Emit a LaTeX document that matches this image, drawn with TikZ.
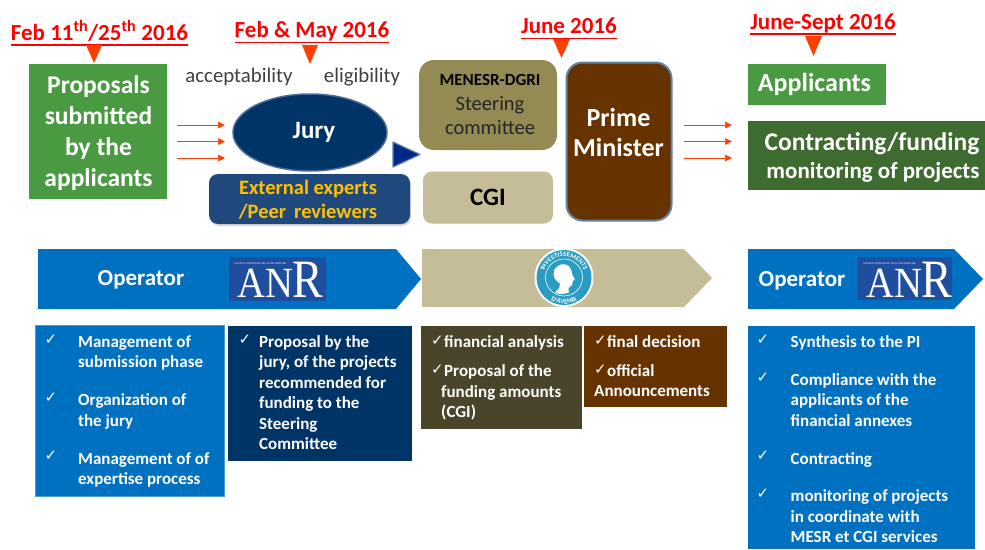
\documentclass[tikz,border=0pt]{standalone}
\usepackage{fontspec}
\setmainfont{Carlito}
\newfontfamily\serifanr{Liberation Serif}
\newfontfamily\chk{DejaVu Sans}
\usetikzlibrary{arrows.meta,shapes.geometric,shadows,decorations.text}
\definecolor{hot}{HTML}{FF3F00}
\definecolor{datered}{HTML}{FF0000}
\definecolor{grn}{HTML}{4A9A42}
\definecolor{dgrn}{HTML}{3E6B30}
\definecolor{navy}{HTML}{003366}
\definecolor{navyb}{HTML}{1F497D}
\definecolor{opblue}{HTML}{0070C0}
\definecolor{olive}{HTML}{948A54}
\definecolor{tan}{HTML}{C4BD97}
\definecolor{brn}{HTML}{663300}
\definecolor{dolive}{HTML}{4A452A}
\definecolor{anrblue}{HTML}{1F4E9E}
\definecolor{gold}{HTML}{FFC000}
\definecolor{seal}{HTML}{2A9CC4}
\tikzset{
  box/.style={anchor=north west,inner sep=0pt,outer sep=0pt,align=center,text=white},
  datelab/.style={inner sep=0pt,text=datered,font=\fontsize{23}{27}\selectfont\bfseries},
  underl/.style={datered,line width=1.4pt},
  flow/.style={hot,line width=0.7pt,-{Triangle[length=7pt,width=6.5pt]}},
  lst/.style={anchor=north west,inner sep=0pt,align=left,text=white,font=\fontsize{17}{20.5}\selectfont\bfseries},
  tick/.style={inner sep=0pt,text=white,font=\chk\fontsize{15}{15}\selectfont},
  panel/.style={box,anchor=north west},
  oplab/.style={inner sep=0pt,text=white,font=\fontsize{23}{27}\selectfont\bfseries},
  crit/.style={inner sep=0pt,text=black!75,font=\fontsize{20.8}{24}\selectfont},
}
\newcommand{\anrlogo}[5]{%
  \begin{scope}[shift={(#2,#3)}]
    \node[fill=anrblue,minimum width=#4pt,minimum height=#5pt,box] (#1box) at (0,0) {};
    \node[inner sep=0pt,text=white,font=\serifanr\fontsize{2.7}{3}\selectfont,anchor=west] (#1sm) at (5,7) {AGENCE NATIONALE DE LA RECHERCHE};
    \node[inner sep=0pt,text=white,xscale=.9,font=\serifanr\fontsize{43}{43}\selectfont,anchor=base west] (#1an) at (8,40.5) {AN};
    \node[inner sep=0pt,text=white,xscale=.85,font=\serifanr\fontsize{54}{54}\selectfont,anchor=base west] (#1r) at (63,40.5) {R};
  \end{scope}}
\newcommand{\tk}[3]{\node[tick] (#1) at (#2,#3) {✓};}
\begin{document}
\begin{tikzpicture}[x=1pt,y=-1pt]
\useasboundingbox (0,0) rectangle (985,549);
\fill[white] (0,0) rectangle (985,549);

% dates
\node[datelab] (d1) at (99.5,30.5) {Feb 11\textsuperscript{th}/25\textsuperscript{th} 2016};
\node[datelab] (d2) at (312,31) {Feb \& May 2016};
\node[datelab] (d3) at (569,26) {June 2016};
\node[datelab] (d4) at (823,23) {June-Sept 2016};
\foreach \n in {d1,d2,d3,d4} \draw[underl] ([yshift=-5pt]\n.base west) -- ([yshift=-5pt]\n.base east);
\fill[hot] (86,45) -- (102,45) -- (94,63) -- cycle;
\fill[hot] (302,45) -- (318,45) -- (310,64) -- cycle;
\fill[hot] (553,39) -- (570,39) -- (561.5,58) -- cycle;
\fill[hot] (805,36) -- (822,36) -- (813.5,56) -- cycle;

% top row
\node[box,fill=grn,minimum width=138pt,minimum height=135pt] (prop) at (29,64) {};
\node[inner sep=0pt,align=center,text=white,font=\fontsize{25.5}{31}\selectfont\bfseries] (propt) at (98.5,133.5) {Proposals\\submitted\\by the\\applicants};
\node[crit] (acc) at (239,77) {acceptability};
\node[crit] (eli) at (362,77) {eligibility};
\node[draw=navyb!80!white,line width=1.5pt,fill=navy,ellipse,minimum width=154pt,minimum height=77pt,inner sep=0pt,text=white,font=\fontsize{25}{29}\selectfont\bfseries] (jury) at (310,132.5) {\hspace{8pt}\raisebox{-2pt}{Jury}};
\node[box,fill=navyb,rounded corners=9pt,minimum width=201pt,minimum height=50pt,drop shadow={shadow xshift=1pt,shadow yshift=-2pt,opacity=.3}] (exp) at (209,174) {};
\node[inner sep=0pt,align=center,text=gold,font=\fontsize{20.5}{23.5}\selectfont\bfseries] (expt) at (308,200) {External experts\\/Peer\, reviewers};
\fill[navy!80!blue,draw=navyb!70!white,line width=1.2pt,line join=round] (393,142) -- (420,154.5) -- (393,167) -- cycle;

\node[box,fill=olive,rounded corners=15pt,minimum width=138pt,minimum height=90pt] (men) at (419,60) {};
\node[inner sep=0pt,text=black,font=\fontsize{17}{20}\selectfont\bfseries] (men1) at (490,80) {MENESR-DGRI};
\node[inner sep=0pt,align=center,text=black!85,font=\fontsize{20.5}{24}\selectfont] (men2) at (490,115.5) {Steering\\committee};
\node[box,fill=tan,rounded corners=9pt,minimum width=130pt,minimum height=52pt,text=black,font=\fontsize{25}{28}\selectfont\bfseries] (cgi) at (423,171.5) {CGI};
\node[box,draw=navyb!70!white,line width=2pt,fill=brn,rounded corners=16pt,minimum width=105pt,minimum height=158pt] (pm) at (566.5,62.5) {};
\node[inner sep=0pt,align=center,text=white,font=\fontsize{26}{30}\selectfont\bfseries] (pmt) at (618.5,132) {Prime\\Minister};

\node[box,fill=grn,minimum width=138pt,minimum height=41pt,font=\fontsize{26}{30}\selectfont\bfseries] (app) at (748,64) {\raisebox{-2pt}{Applicants}\hspace{5pt}};
\node[box,fill=dgrn,minimum width=237pt,minimum height=69pt] (con) at (748,121) {};
\node[inner sep=0pt,text=white,font=\fontsize{25.5}{29}\selectfont\bfseries] (con1) at (872,143.5) {Contracting/funding};
\node[inner sep=0pt,text=white,font=\fontsize{23}{27}\selectfont\bfseries] (con2) at (873,172) {monitoring of projects};

% flow arrows
\foreach \y [count=\i] in {125,141.5,158}{
  \coordinate (la\i) at (177,\y); \coordinate (lb\i) at (225,\y);
  \coordinate (ra\i) at (684,\y); \coordinate (rb\i) at (732,\y);
  \draw[flow] (la\i) -- (lb\i);
  \draw[flow] (ra\i) -- (rb\i);
}

% chevrons
\fill[opblue] (38,249) -- (396,249) -- (421,279) -- (396,309) -- (38,309) -- cycle;
\fill[tan] (422,249) -- (684,249) -- (712,278) -- (684,307) -- (422,307) -- cycle;
\fill[opblue] (748,249) -- (954,249) -- (983,279) -- (954,309) -- (748,309) -- cycle;
\node[oplab] (op1) at (141,280) {Operator};
\node[oplab] (op2) at (802,281) {Operator};
\anrlogo{l}{229}{257}{97}{44}
\anrlogo{r}{858}{257}{94}{43}

% seal
\begin{scope}[shift={(564,277.5)},x=1pt,y=1pt]
  \fill[white] (0,0) circle (29.5pt);
  \fill[seal] (0,0) circle (27.5pt);
  \draw[white,line width=.6pt] (0,0) circle (18.5pt);
  \fill[white] (-9,-15) .. controls (-5,-11) and (-3,-9) .. (-4,-6)
     .. controls (-11,-2) and (-13,6) .. (-7,11)
     .. controls (-2,15) and (5,14) .. (7,8)
     .. controls (8,6) and (8,4) .. (8.5,2)
     .. controls (10,0) and (11,-1) .. (10.5,-2)
     .. controls (9,-3) and (8.5,-4) .. (8.5,-5)
     .. controls (8.5,-8) and (7,-9) .. (6,-9)
     .. controls (4,-10) and (4,-12) .. (5,-15)
     .. controls (0,-17) and (-6,-17) .. (-9,-15) -- cycle;
  \path[decorate,decoration={text along path,text align=center,
     text={|\fontsize{6.8}{8}\selectfont\bfseries\color{white}|INVESTISSEMENTS}}]
     (-20.3,-5) arc[start angle=194,end angle=-14,radius=20.9pt];
  \path[decorate,decoration={text along path,text align=center,
     text={|\fontsize{6.8}{8}\selectfont\bfseries\color{white}|D'AVENIR}}]
     (-23.4,-12.4) arc[start angle=208,end angle=332,radius=26.5pt];
\end{scope}

% panel 1
\node[panel,fill=opblue,draw=opblue!70!white,line width=.6pt,minimum width=189pt,minimum height=170.5pt] (p1) at (35.5,325.5) {};
\tk{t1a}{51}{340}\tk{t1b}{51}{398}\tk{t1c}{51}{456}
\node[lst] (l1a) at (78,335) {Management of\\submission phase};
\node[lst] (l1b) at (78,393.5) {Organization of\\the jury};
\node[lst] (l1c) at (78,452) {Management of of\\expertise process};

% panel 2
\node[panel,fill=navy,minimum width=184pt,minimum height=135pt] (p2) at (228,326) {};
\tk{t2a}{245}{340}
\node[lst] (l2a) at (259,335) {Proposal by the\\jury, of the projects\\recommended for\\funding to the\\Steering\\Committee};

% panel 3
\node[panel,fill=dolive,minimum width=161pt,minimum height=103pt] (p3) at (421,325.5) {};
\tk{t3a}{437.5}{341}\tk{t3b}{437.5}{370}
\node[lst,anchor=base west] (l3a) at (444,347.5) {financial analysis};
\node[lst] (l3b) at (444,364.5) {Proposal of the};
\node[lst] (l3c) at (441,385) {funding amounts\\(CGI)};

% panel 4
\node[panel,fill=brn,minimum width=143pt,minimum height=81.5pt] (p4) at (584,325.5) {};
\tk{t4a}{600.5}{341}\tk{t4b}{600.5}{370}
\node[lst,anchor=base west] (l4a) at (607,347.5) {final decision};
\node[lst] (l4b) at (607,364.5) {official};
\node[lst] (l4c) at (594,385) {Announcements};

% panel 5
\node[panel,fill=opblue,minimum width=227pt,minimum height=223pt] (p5) at (748,326) {};
\tk{t5a}{763}{340}\tk{t5b}{763}{378}\tk{t5c}{763}{456}\tk{t5d}{763}{494}
\node[lst] (l5a) at (790.5,335) {Synthesis to the PI};
\node[lst] (l5b) at (790.5,373) {Compliance with the\\applicants of the\\financial annexes};
\node[lst] (l5c) at (790.5,452) {Contracting};
\node[lst] (l5d) at (790.5,489.5) {monitoring of projects\\in coordinate with\\MESR et CGI services};
\end{tikzpicture}
\end{document}
